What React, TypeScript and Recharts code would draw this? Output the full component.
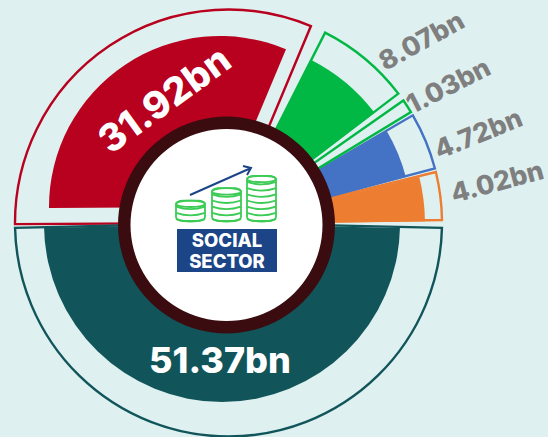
import { PieChart, Pie, Cell } from 'recharts'

// wedges run counter-clockwise from the east, as Recharts draws them
const wedgeNames = ['orange', 'blue', 'thin green', 'green', 'red', 'teal']
const wedgeAmounts = ['4.02bn', '4.72bn', '1.03bn', '8.07bn', '31.92bn', '51.37bn']
// angular size of each wedge and of the gap in front of it (degrees)
const wedgeSweeps = [13, 15.5, 3.7, 25.8, 113, 177.4]
const gapSweeps = [0.8, 1, 1, 2.3, 4.2, 1]
const closingGap = 1.3

const wedgeColors = ['#ED7D31', '#4472C4', '#00B843', '#00B843', '#B8001F', '#11555B']
// the filled part of a wedge is a smaller copy of its outline, null = outline only
const fillLayers = [
  { cx: 228, cy: 224, r: 197 },
  { cx: 228, cy: 224, r: 184 },
  null,
  { cx: 228, cy: 224, r: 184 },
  { cx: 220, cy: 207, r: 171 },
  { cx: 222, cy: 224, r: 178 },
]

const coinCounts = [3, 5, 7]
const coinLefts = [176, 212, 247]

const pieData = wedgeNames.flatMap((name, i) => [
  { name: `gap ${i}`, value: gapSweeps[i] },
  { name, value: wedgeSweeps[i] },
])
pieData.push({ name: 'gap end', value: closingGap })

const wedgeIndex = (row: number) => (row % 2 === 1 && row < 12 ? (row - 1) / 2 : -1)

const BG = '#DEF0EF'
const FONT = 'Inter, "Open Sans", sans-serif'

function CoinStack({ x, count }: { x: number; count: number }) {
  const w = 29
  const step = 6.2
  const bottom = 221
  const top = bottom - 8 - (count - 1) * step
  const cxm = x + w / 2
  return (
    <g fill="none" stroke="#3CCB55" strokeWidth={1.8}>
      <rect x={x} y={top} width={w} height={bottom - top} rx={7} ry={4} fill="#fff" />
      <ellipse cx={cxm} cy={top + 3.2} rx={w / 2} ry={3.2} />
      {Array.from({ length: count }, (_, i) => (
        <path
          key={i}
          d={`M${x} ${top + 3 + step * (i + 0.5)} Q${cxm} ${top + 3 + step * (i + 0.5) + 5} ${x + w} ${top + 3 + step * (i + 0.5)}`}
        />
      ))}
    </g>
  )
}

function Amount({ x, y, angle, size, fill, children }: any) {
  return (
    <text
      x={x}
      y={y}
      transform={`rotate(${angle} ${x} ${y})`}
      textAnchor="middle"
      dominantBaseline="central"
      fontFamily={FONT}
      fontWeight={800}
      fontSize={size}
      fill={fill}
    >
      {children}
    </text>
  )
}

export default function App() {
  return (
    <div style={{ position: 'absolute', left: 0, top: 0, width: 548, height: 437, background: BG, overflow: 'hidden' }}>
      <PieChart width={548} height={437} margin={{ top: 0, right: 0, bottom: 0, left: 0 }}>
        {/* outlines */}
        <Pie
          data={pieData}
          dataKey="value"
          cx={228.5}
          cy={223}
          innerRadius={0}
          outerRadius={213.5}
          startAngle={0}
          endAngle={360}
          paddingAngle={0}
          isAnimationActive={false}
        >
          {pieData.map((_, row) => {
            const i = wedgeIndex(row)
            return <Cell key={row} fill="none" stroke={i < 0 ? 'none' : wedgeColors[i]} strokeWidth={2.4} />
          })}
        </Pie>
        {/* filled parts */}
        {fillLayers.map((layer, w) =>
          layer ? (
            <Pie
              key={w}
              data={pieData}
              dataKey="value"
              cx={layer.cx}
              cy={layer.cy}
              innerRadius={0}
              outerRadius={layer.r}
              startAngle={0}
              endAngle={360}
              isAnimationActive={false}
            >
              {pieData.map((_, row) => (
                <Cell key={row} fill={wedgeIndex(row) === w ? wedgeColors[w] : 'none'} stroke="none" />
              ))}
            </Pie>
          ) : null
        )}
        {/* centre hub */}
        <Pie
          data={[{ name: 'hub', value: 1 }]}
          dataKey="value"
          cx={226.5}
          cy={225}
          innerRadius={0}
          outerRadius={108.5}
          fill="#3A0C10"
          stroke="none"
          isAnimationActive={false}
        />
        <Pie
          data={[{ name: 'hub centre', value: 1 }]}
          dataKey="value"
          cx={226.5}
          cy={225}
          innerRadius={0}
          outerRadius={96}
          fill="#FFFFFF"
          stroke="none"
          isAnimationActive={false}
        />
      </PieChart>

      {/* labels and logo sit on top of the chart */}
      <svg width={548} height={437} style={{ position: 'absolute', left: 0, top: 0 }}>
        <Amount x={497} y={181} angle={-15} size={26.5} fill="#7F7F7F">{wedgeAmounts[0]}</Amount>
        <Amount x={478} y={133} angle={-22} size={26.5} fill="#7F7F7F">{wedgeAmounts[1]}</Amount>
        <Amount x={448} y={85} angle={-27} size={26.5} fill="#7F7F7F">{wedgeAmounts[2]}</Amount>
        <Amount x={421} y={40} angle={-29} size={26.5} fill="#7F7F7F">{wedgeAmounts[3]}</Amount>
        <Amount x={164} y={99} angle={-36} size={38} fill="#FFFFFF">{wedgeAmounts[4]}</Amount>
        <Amount x={220} y={360} angle={0} size={36} fill="#FFFFFF">{wedgeAmounts[5]}</Amount>

        {coinCounts.map((n, i) => (
          <CoinStack key={i} x={coinLefts[i]} count={n} />
        ))}
        <path d="M190 195 L251 168 M243 166 L251 168 L247 175" fill="none" stroke="#1C4587" strokeWidth={2} />
        <rect x={177} y={229} width={100} height={43} fill="#1C4587" />
        <text x={227} y={247} textAnchor="middle" fontFamily={FONT} fontWeight={800} fontSize={18.5} fill="#fff">SOCIAL</text>
        <text x={227} y={268} textAnchor="middle" fontFamily={FONT} fontWeight={800} fontSize={18.5} fill="#fff">SECTOR</text>
      </svg>
    </div>
  )
}
